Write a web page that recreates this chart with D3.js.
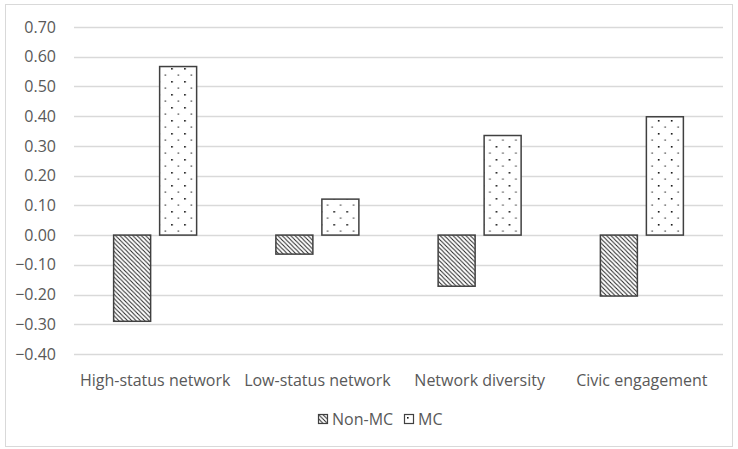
<!DOCTYPE html>
<html>
<head>
<meta charset="utf-8">
<script src="https://cdn.jsdelivr.net/npm/d3@7"></script>
<style>
  html, body { margin: 0; padding: 0; background: #fff; }
  svg { display: block; font-family: "Open Sans", "Noto Sans", sans-serif; }
</style>
</head>
<body>
<svg id="chart" width="738" height="449"></svg>
<script>
// Group means by outcome
const categories = ["High-status network", "Low-status network", "Network diversity", "Civic engagement"];
const seriesNames = ["Non-MC", "MC"];
const nonMC = [-0.29, -0.064, -0.172, -0.205];
const mc = [0.567, 0.121, 0.335, 0.398];
const yTicks = [0.70, 0.60, 0.50, 0.40, 0.30, 0.20, 0.10, 0.00, -0.10, -0.20, -0.30, -0.40];

const svg = d3.select("#chart");
const plot = { left: 74, right: 723, top: 27, bottom: 354 };
const textColor = "#595959";
const fontSize = "16px";

// Frame around the whole chart area
svg.append("rect")
  .attr("x", 5.5).attr("y", 4.5)
  .attr("width", 727).attr("height", 442)
  .attr("fill", "#fff").attr("stroke", "#d9d9d9").attr("stroke-width", 1);

// Fill patterns
const defs = svg.append("defs");
const hatch = defs.append("pattern")
  .attr("id", "hatch").attr("patternUnits", "userSpaceOnUse")
  .attr("width", 4.3).attr("height", 4.3);
hatch.append("rect").attr("width", 4.3).attr("height", 4.3).attr("fill", "#fff");
hatch.append("path")
  .attr("d", "M-1,-1 L5.3,5.3 M-1,3.3 L1,5.3 M3.3,-1 L5.3,1")
  .attr("stroke", "#222").attr("stroke-width", 1);

const dots = defs.append("pattern")
  .attr("id", "dots").attr("patternUnits", "userSpaceOnUse")
  .attr("width", 13).attr("height", 13);
dots.append("rect").attr("width", 13).attr("height", 13).attr("fill", "#fff");
dots.append("rect").attr("x", 3).attr("y", 3).attr("width", 1.6).attr("height", 1.6).attr("fill", "#111");
dots.append("rect").attr("x", 9.5).attr("y", 9.5).attr("width", 1.6).attr("height", 1.2).attr("fill", "#444");

const y = d3.scaleLinear()
  .domain([-0.40, 0.70])
  .range([plot.bottom, plot.top]);

const x0 = d3.scaleBand()
  .domain(categories)
  .range([plot.left, plot.right])
  .paddingInner(0).paddingOuter(0);

const x1 = d3.scaleBand()
  .domain(seriesNames)
  .range([-41.5, 41.5])
  .paddingInner(9 / 46);

// Horizontal gridlines
svg.append("g")
  .selectAll("line")
  .data(yTicks)
  .join("line")
  .attr("x1", plot.left).attr("x2", plot.right)
  .attr("y1", d => Math.round(y(d)) + 0.5)
  .attr("y2", d => Math.round(y(d)) + 0.5)
  .attr("stroke", "#d9d9d9").attr("stroke-width", 1.3);

// Y axis labels
const yAxis = d3.axisLeft(y)
  .tickValues(yTicks)
  .tickFormat(d3.format(".2f"))
  .tickSize(0)
  .tickPadding(0);
const gy = svg.append("g")
  .attr("transform", `translate(56,0)`)
  .call(yAxis);
gy.select(".domain").remove();
gy.selectAll("text")
  .attr("fill", textColor)
  .style("font-size", fontSize)
  .style("font-family", "'Open Sans', sans-serif");

// Bars
const rows = categories.map((c, i) => ({ cat: c, vals: [nonMC[i], mc[i]] }));
const groups = svg.append("g").selectAll("g")
  .data(rows)
  .join("g")
  .attr("transform", d => `translate(${x0(d.cat) + x0.bandwidth() / 2},0)`);

groups.selectAll("rect")
  .data(d => d.vals.map((v, j) => ({ key: seriesNames[j], v })))
  .join("rect")
  .attr("x", d => x1(d.key))
  .attr("width", x1.bandwidth())
  .attr("y", d => y(Math.max(0, d.v)))
  .attr("height", d => Math.abs(y(d.v) - y(0)))
  .attr("fill", d => d.key === "MC" ? "url(#dots)" : "url(#hatch)")
  .attr("stroke", "#404040").attr("stroke-width", 1.5);

// Category axis labels
const xAxis = d3.axisBottom(x0).tickSize(0).tickPadding(0);
const gx = svg.append("g")
  .attr("transform", `translate(0,374.5)`)
  .call(xAxis);
gx.select(".domain").remove();
gx.selectAll("text")
  .attr("fill", textColor)
  .style("font-size", fontSize)
  .style("font-family", "'Open Sans', sans-serif");

// Legend
const legendItems = [
  { name: "Non-MC", fill: "url(#hatch)", x: 318 },
  { name: "MC", fill: "url(#dots)", x: 404 }
];
const lg = svg.append("g").selectAll("g")
  .data(legendItems)
  .join("g")
  .attr("transform", d => `translate(${d.x},414)`);
lg.append("rect")
  .attr("x", 0.5).attr("y", 0.5)
  .attr("width", 9).attr("height", 9)
  .attr("fill", d => d.fill)
  .attr("stroke", "#404040").attr("stroke-width", 1.2);
lg.append("text")
  .attr("x", 14).attr("y", 10.5)
  .attr("fill", textColor)
  .style("font-size", fontSize)
  .style("font-family", "'Open Sans', sans-serif")
  .text(d => d.name);
</script>
</body>
</html>
